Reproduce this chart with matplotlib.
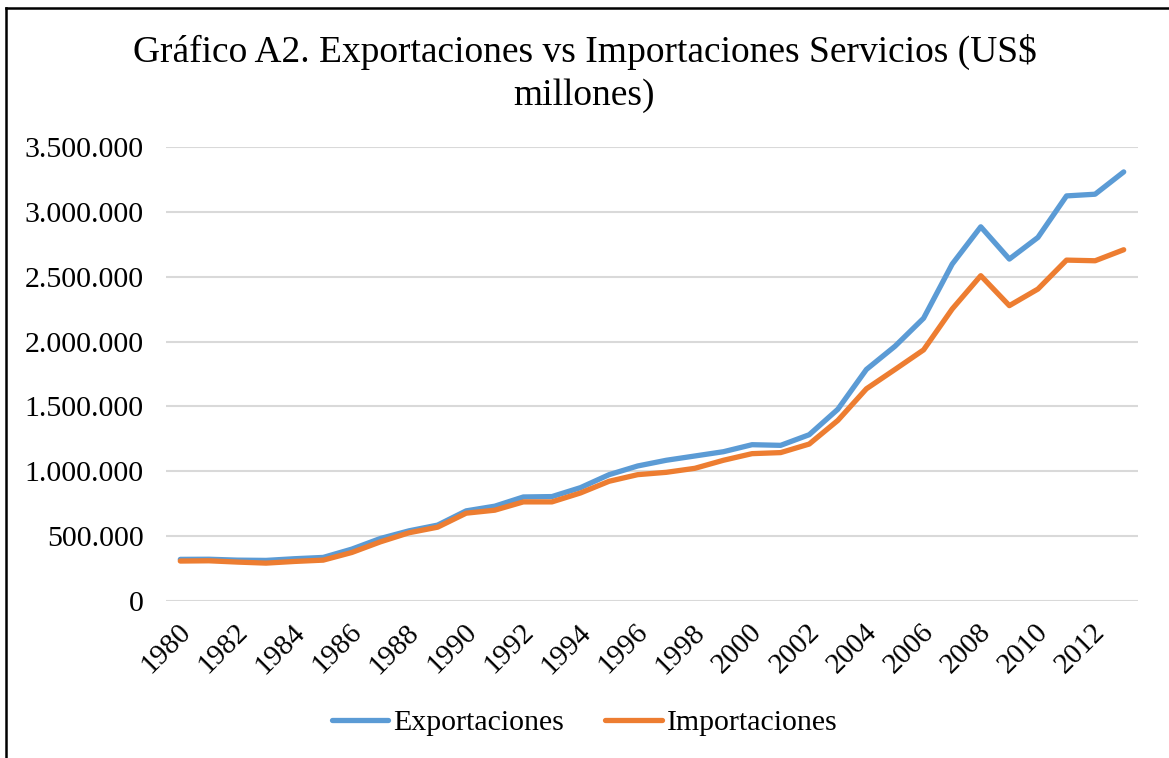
import matplotlib
matplotlib.use("Agg")
import matplotlib.pyplot as plt
from matplotlib.lines import Line2D
from matplotlib.ticker import FuncFormatter
from matplotlib.transforms import ScaledTranslation

years = list(range(1980, 2014))
exportaciones = [321, 322, 315, 313, 326, 336, 400, 482, 541, 585, 695, 731, 802, 805, 874, 974,
                 1041, 1085, 1118, 1151, 1205, 1200, 1282, 1478, 1785, 1964, 2180, 2597, 2885,
                 2636, 2803, 3123, 3136, 3308]
importaciones = [308, 310, 300, 292, 305, 315, 374, 456, 526, 569, 677, 700, 764, 764, 833, 923,
                 974, 992, 1023, 1085, 1136, 1144, 1210, 1392, 1636, 1785, 1936, 2251, 2508,
                 2277, 2405, 2628, 2623, 2708]
exportaciones = [v * 1000 for v in exportaciones]
importaciones = [v * 1000 for v in importaciones]

title = "Gráfico A2. Exportaciones vs Importaciones Servicios (US$\nmillones)"
yticks = [0, 500000, 1000000, 1500000, 2000000, 2500000, 3000000, 3500000]

plt.rcParams['font.family'] = ['Liberation Serif', 'DejaVu Serif']

W, H = 1169, 758
fig = plt.figure(figsize=(W / 100, H / 100), dpi=100)
ax = fig.add_axes([166 / W, 1 - 601 / H, (1138 - 166) / W, (601 - 147) / H])

x = list(range(len(years)))
ax.plot(x, exportaciones, color='#5B9BD5', lw=3.8, solid_capstyle='round', solid_joinstyle='round', label='Exportaciones')
ax.plot(x, importaciones, color='#ED7D31', lw=3.8, solid_capstyle='round', solid_joinstyle='round', label='Importaciones')

ax.set_xlim(-0.5, len(years) - 0.5)
ax.set_ylim(0, 3500000)
ax.set_yticks(yticks)
ax.yaxis.set_major_formatter(FuncFormatter(lambda v, p: f"{int(v):,}".replace(",", ".")))
ax.grid(axis='y', color='#D9D9D9', lw=1.5)
ax.set_axisbelow(True)
for s in ax.spines.values():
    s.set_visible(False)
ax.tick_params(axis='y', length=0, pad=16, labelsize=21.5)
ax.tick_params(axis='x', length=0, pad=13, labelsize=21)
tick_pos = x[::2]
ax.set_xticks(tick_pos)
ax.set_xticklabels([str(years[i]) for i in tick_pos], rotation=45, ha='right', va='top', rotation_mode='anchor')
shift = ScaledTranslation(-3 / 100, 0, fig.dpi_scale_trans)
for lbl in ax.get_xticklabels():
    lbl.set_transform(lbl.get_transform() + shift)

fig.text(0.5, 1 - 34 / H, title, ha='center', va='top', fontsize=27, linespacing=1.3)

leg = fig.legend(loc='center', bbox_to_anchor=(0.5, 1 - 723 / H), ncol=2, frameon=False,
                 fontsize=21.5, handlelength=1.9, columnspacing=1.4, handletextpad=0.15)
for h in leg.get_lines():
    h.set_linewidth(3.8)
    h.set_solid_capstyle('round')

fig.add_artist(Line2D([6 / W, 1], [1 - 8 / H, 1 - 8 / H], transform=fig.transFigure, color='black', lw=1.8))
fig.add_artist(Line2D([6 / W, 6 / W], [0, 1 - 8 / H], transform=fig.transFigure, color='black', lw=1.8))

fig.savefig('out.png', dpi=100)
